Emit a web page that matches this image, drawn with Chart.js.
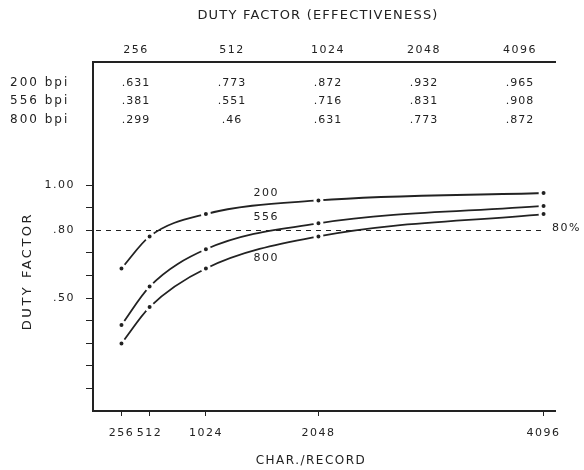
<!DOCTYPE html>
<html><head><meta charset="utf-8">
<script src="https://cdn.jsdelivr.net/npm/chart.js@4.4.1/dist/chart.umd.min.js"></script>
<style>html,body{margin:0;padding:0;background:#fff;}#wrap{width:584px;height:470px;}</style>
</head><body><div id="wrap"><canvas id="c" width="584" height="470"></canvas></div>
<script>
// ---- data ----
const charPerRecord = [256, 512, 1024, 2048, 4096];
const series200 = [0.631, 0.773, 0.872, 0.932, 0.965];
const series556 = [0.381, 0.551, 0.716, 0.831, 0.908];
const series800 = [0.299, 0.46, 0.631, 0.773, 0.872];
const seriesNames = ['200', '556', '800'];
const rowLabels = ['200 bpi', '556 bpi', '800 bpi'];
const yTickValues = [0.1, 0.2, 0.3, 0.4, 0.5, 0.6, 0.7, 0.8, 0.9, 1.0];
const yLabelValues = [1.0, 0.8, 0.5];
const yLabelTexts = ['1.00', '.80', '.50'];
const thresholdValue = 0.8;
const thresholdLabel = '80%';
const chartTitle = 'DUTY FACTOR (EFFECTIVENESS)';
const xTitle = 'CHAR./RECORD';
const yTitle = 'DUTY FACTOR';
// label anchors (data units)
const seriesLabelX = 1572;
const seriesLabelY = [0.965, 0.858, 0.677];
const thresholdLineEndX = 4110;

const ink = '#222';
const FONT = 'DejaVu Sans';
Chart.defaults.font.family = FONT;
Chart.defaults.color = ink;

const fmt = v => String(v).replace(/^0/, '');
const allSeries = [series200, series556, series800];

const lineStyle = {
  borderColor: ink, borderWidth: 1.8,
  pointRadius: 3.5, pointBackgroundColor: ink,
  pointBorderColor: '#fff', pointBorderWidth: 3,
  cubicInterpolationMode: 'monotone', fill: false, clip: false
};

const spacingPlugin = {
  id: 'spacing',
  beforeUpdate(chart) { chart.ctx.letterSpacing = '1.5px'; },
  beforeDraw(chart) { chart.ctx.letterSpacing = '1.5px'; }
};

function txt(ctx, s, x, y, size, spacing, align) {
  ctx.save();
  ctx.font = size + 'px "' + FONT + '"';
  ctx.letterSpacing = spacing + 'px';
  ctx.fillStyle = ink;
  ctx.textAlign = align || 'center';
  ctx.textBaseline = 'middle';
  ctx.fillText(s, x, y);
  ctx.restore();
}

const annot = {
  id: 'annot',
  beforeDatasetsDraw(chart) {
    const {ctx, scales: {x, y}, chartArea} = chart;
    const py = Math.round(y.getPixelForValue(thresholdValue)) + 0.5;
    ctx.save();
    ctx.strokeStyle = ink; ctx.lineWidth = 1; ctx.setLineDash([5, 5]);
    ctx.beginPath(); ctx.moveTo(chartArea.left + 3, py);
    ctx.lineTo(x.getPixelForValue(thresholdLineEndX), py); ctx.stroke();
    ctx.restore();
  },
  afterDraw(chart) {
    const {ctx, scales: {x, y, xTop}, chartArea} = chart;
    txt(ctx, thresholdLabel, x.getPixelForValue(thresholdLineEndX) + 7,
        y.getPixelForValue(thresholdValue) - 2, 11, 1.5, 'left');
    seriesNames.forEach((n, i) => {
      txt(ctx, n, x.getPixelForValue(seriesLabelX), y.getPixelForValue(seriesLabelY[i]), 11, 1.5, 'center');
    });
    const rowOffsets = [21, 39, 58];
    rowLabels.forEach((lab, r) => {
      const py = chartArea.top + rowOffsets[r];
      txt(ctx, lab, 10, py, 12, 2, 'left');
      allSeries[r].forEach((v, c) => {
        txt(ctx, fmt(v), xTop.getPixelForValue(c), py, 11, 1, 'center');
      });
    });
    txt(ctx, chartTitle, 318, 16, 13, 1.2, 'center');
    txt(ctx, xTitle, 311, 461, 12, 1.5, 'center');
    ctx.save();
    ctx.translate(28, 271); ctx.rotate(-Math.PI / 2);
    txt(ctx, yTitle, 0, 0, 13, 2.5, 'center');
    ctx.restore();
  }
};

new Chart(document.getElementById('c').getContext('2d'), {
  type: 'line',
  data: {
    datasets: allSeries.map((s, i) => Object.assign({
      label: seriesNames[i],
      data: charPerRecord.map((xv, j) => ({x: xv, y: s[j]}))
    }, lineStyle))
  },
  options: {
    responsive: false, animation: false, devicePixelRatio: 1,
    layout: {padding: {left: 0, right: 29, top: 0, bottom: 0}},
    plugins: {legend: {display: false}, tooltip: {enabled: false}, title: {display: false}},
    scales: {
      x: {
        type: 'linear', position: 'bottom', min: -3, max: 4200,
        afterBuildTicks: s => { s.ticks = charPerRecord.map(v => ({value: v})); },
        ticks: {callback: v => String(v), color: ink, font: {size: 11}, padding: 11, maxRotation: 0, autoSkip: false},
        grid: {drawOnChartArea: false, drawTicks: true, tickLength: 5, color: ink, lineWidth: 1},
        border: {display: true, color: ink, width: 2},
        afterFit: s => { s.height = 59; }
      },
      xTop: {
        type: 'linear', position: 'top', min: -0.448, max: 4.365,
        afterBuildTicks: s => { s.ticks = charPerRecord.map((v, i) => ({value: i})); },
        ticks: {callback: (v, i) => String(charPerRecord[i]), color: ink, font: {size: 11}, padding: 5, maxRotation: 0, autoSkip: false},
        grid: {drawOnChartArea: false, drawTicks: false},
        border: {display: true, color: ink, width: 2},
        afterFit: s => { s.height = 62; }
      },
      y: {
        type: 'linear', position: 'left', min: 0, max: 1.545,
        afterBuildTicks: s => { s.ticks = yTickValues.map(v => ({value: v})); },
        ticks: {
          callback: v => { const k = yLabelValues.findIndex(t => Math.abs(t - v) < 1e-6); return k >= 0 ? yLabelTexts[k] : ''; },
          color: ink, font: {size: 11}, padding: 11
        },
        grid: {drawOnChartArea: false, drawTicks: true, tickLength: 7, color: ink, lineWidth: 1},
        border: {display: true, color: ink, width: 2},
        afterFit: s => { s.height; s.width = 93; }
      }
    }
  },
  plugins: [spacingPlugin, annot]
});
</script>
</body></html>
